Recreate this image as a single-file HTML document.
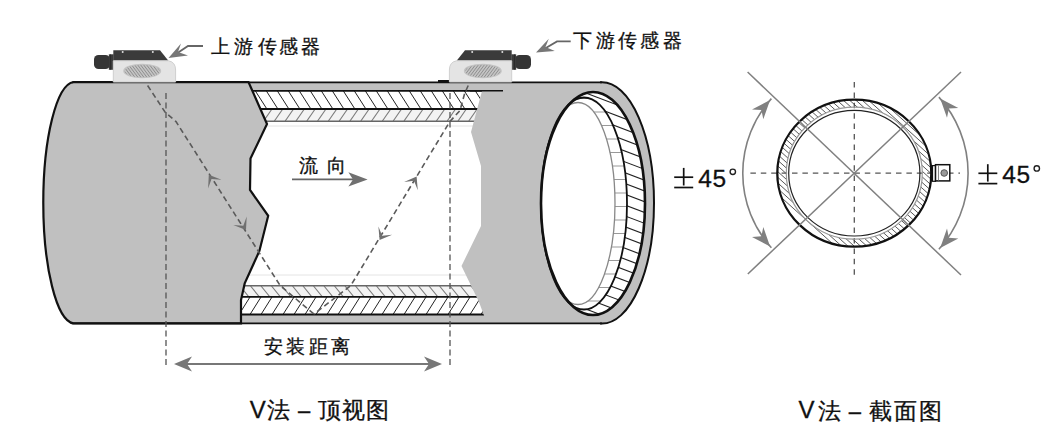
<!DOCTYPE html>
<html><head><meta charset="utf-8"><style>html,body{margin:0;padding:0;background:#fff}svg{display:block}</style></head>
<body><svg width="1062" height="433" viewBox="0 0 1062 433" style="font-family:'Liberation Sans',sans-serif"><defs><clipPath id="mid"><rect x="200" y="82" width="320" height="243"/></clipPath></defs><rect width="1062" height="433" fill="#fff"/><rect x="240" y="82" width="265" height="9" fill="#c0c0c0"/><g clip-path="url(#c91_109)" stroke="#222" stroke-width="1"><line x1="222.40" y1="91.00" x2="233.90" y2="109.00"/><line x1="233.40" y1="91.00" x2="244.90" y2="109.00"/><line x1="244.40" y1="91.00" x2="255.90" y2="109.00"/><line x1="255.40" y1="91.00" x2="266.90" y2="109.00"/><line x1="266.40" y1="91.00" x2="277.90" y2="109.00"/><line x1="277.40" y1="91.00" x2="288.90" y2="109.00"/><line x1="288.40" y1="91.00" x2="299.90" y2="109.00"/><line x1="299.40" y1="91.00" x2="310.90" y2="109.00"/><line x1="310.40" y1="91.00" x2="321.90" y2="109.00"/><line x1="321.40" y1="91.00" x2="332.90" y2="109.00"/><line x1="332.40" y1="91.00" x2="343.90" y2="109.00"/><line x1="343.40" y1="91.00" x2="354.90" y2="109.00"/><line x1="354.40" y1="91.00" x2="365.90" y2="109.00"/><line x1="365.40" y1="91.00" x2="376.90" y2="109.00"/><line x1="376.40" y1="91.00" x2="387.90" y2="109.00"/><line x1="387.40" y1="91.00" x2="398.90" y2="109.00"/><line x1="398.40" y1="91.00" x2="409.90" y2="109.00"/><line x1="409.40" y1="91.00" x2="420.90" y2="109.00"/><line x1="420.40" y1="91.00" x2="431.90" y2="109.00"/><line x1="431.40" y1="91.00" x2="442.90" y2="109.00"/><line x1="442.40" y1="91.00" x2="453.90" y2="109.00"/><line x1="453.40" y1="91.00" x2="464.90" y2="109.00"/><line x1="464.40" y1="91.00" x2="475.90" y2="109.00"/><line x1="475.40" y1="91.00" x2="486.90" y2="109.00"/><line x1="486.40" y1="91.00" x2="497.90" y2="109.00"/><line x1="497.40" y1="91.00" x2="508.90" y2="109.00"/><line x1="508.40" y1="91.00" x2="519.90" y2="109.00"/><line x1="519.40" y1="91.00" x2="530.90" y2="109.00"/></g><rect x="240" y="109.5" width="265" height="11.5" fill="#f3f3f3"/><g clip-path="url(#c109_121)" stroke="#7a7a7a" stroke-width="1.1"><line x1="250.00" y1="109.50" x2="242.00" y2="121.00"/><line x1="260.80" y1="109.50" x2="252.80" y2="121.00"/><line x1="271.60" y1="109.50" x2="263.60" y2="121.00"/><line x1="282.40" y1="109.50" x2="274.40" y2="121.00"/><line x1="293.20" y1="109.50" x2="285.20" y2="121.00"/><line x1="304.00" y1="109.50" x2="296.00" y2="121.00"/><line x1="314.80" y1="109.50" x2="306.80" y2="121.00"/><line x1="325.60" y1="109.50" x2="317.60" y2="121.00"/><line x1="336.40" y1="109.50" x2="328.40" y2="121.00"/><line x1="347.20" y1="109.50" x2="339.20" y2="121.00"/><line x1="358.00" y1="109.50" x2="350.00" y2="121.00"/><line x1="368.80" y1="109.50" x2="360.80" y2="121.00"/><line x1="379.60" y1="109.50" x2="371.60" y2="121.00"/><line x1="390.40" y1="109.50" x2="382.40" y2="121.00"/><line x1="401.20" y1="109.50" x2="393.20" y2="121.00"/><line x1="412.00" y1="109.50" x2="404.00" y2="121.00"/><line x1="422.80" y1="109.50" x2="414.80" y2="121.00"/><line x1="433.60" y1="109.50" x2="425.60" y2="121.00"/><line x1="444.40" y1="109.50" x2="436.40" y2="121.00"/><line x1="455.20" y1="109.50" x2="447.20" y2="121.00"/><line x1="466.00" y1="109.50" x2="458.00" y2="121.00"/><line x1="476.80" y1="109.50" x2="468.80" y2="121.00"/><line x1="487.60" y1="109.50" x2="479.60" y2="121.00"/><line x1="498.40" y1="109.50" x2="490.40" y2="121.00"/><line x1="509.20" y1="109.50" x2="501.20" y2="121.00"/><line x1="520.00" y1="109.50" x2="512.00" y2="121.00"/></g><line x1="240" y1="90.8" x2="503" y2="90.8" stroke="#111" stroke-width="1.8"/><line x1="240" y1="109" x2="505" y2="109" stroke="#111" stroke-width="1.8"/><line x1="240" y1="121.3" x2="505" y2="121.3" stroke="#666" stroke-width="1.4"/><line x1="240" y1="126" x2="505" y2="126" stroke="#e4e4e4" stroke-width="1"/><line x1="240" y1="275" x2="505" y2="275" stroke="#e4e4e4" stroke-width="1"/><rect x="240" y="286" width="265" height="11" fill="#f3f3f3"/><g clip-path="url(#c286_297)" stroke="#7a7a7a" stroke-width="1.1"><line x1="240.00" y1="286.00" x2="249.00" y2="297.00"/><line x1="250.50" y1="286.00" x2="259.50" y2="297.00"/><line x1="261.00" y1="286.00" x2="270.00" y2="297.00"/><line x1="271.50" y1="286.00" x2="280.50" y2="297.00"/><line x1="282.00" y1="286.00" x2="291.00" y2="297.00"/><line x1="292.50" y1="286.00" x2="301.50" y2="297.00"/><line x1="303.00" y1="286.00" x2="312.00" y2="297.00"/><line x1="313.50" y1="286.00" x2="322.50" y2="297.00"/><line x1="324.00" y1="286.00" x2="333.00" y2="297.00"/><line x1="334.50" y1="286.00" x2="343.50" y2="297.00"/><line x1="345.00" y1="286.00" x2="354.00" y2="297.00"/><line x1="355.50" y1="286.00" x2="364.50" y2="297.00"/><line x1="366.00" y1="286.00" x2="375.00" y2="297.00"/><line x1="376.50" y1="286.00" x2="385.50" y2="297.00"/><line x1="387.00" y1="286.00" x2="396.00" y2="297.00"/><line x1="397.50" y1="286.00" x2="406.50" y2="297.00"/><line x1="408.00" y1="286.00" x2="417.00" y2="297.00"/><line x1="418.50" y1="286.00" x2="427.50" y2="297.00"/><line x1="429.00" y1="286.00" x2="438.00" y2="297.00"/><line x1="439.50" y1="286.00" x2="448.50" y2="297.00"/><line x1="450.00" y1="286.00" x2="459.00" y2="297.00"/><line x1="460.50" y1="286.00" x2="469.50" y2="297.00"/><line x1="471.00" y1="286.00" x2="480.00" y2="297.00"/><line x1="481.50" y1="286.00" x2="490.50" y2="297.00"/><line x1="492.00" y1="286.00" x2="501.00" y2="297.00"/><line x1="502.50" y1="286.00" x2="511.50" y2="297.00"/><line x1="513.00" y1="286.00" x2="522.00" y2="297.00"/><line x1="523.50" y1="286.00" x2="532.50" y2="297.00"/></g><g clip-path="url(#c297_314)" stroke="#222" stroke-width="1"><line x1="250.00" y1="297.00" x2="239.00" y2="314.50"/><line x1="261.00" y1="297.00" x2="250.00" y2="314.50"/><line x1="272.00" y1="297.00" x2="261.00" y2="314.50"/><line x1="283.00" y1="297.00" x2="272.00" y2="314.50"/><line x1="294.00" y1="297.00" x2="283.00" y2="314.50"/><line x1="305.00" y1="297.00" x2="294.00" y2="314.50"/><line x1="316.00" y1="297.00" x2="305.00" y2="314.50"/><line x1="327.00" y1="297.00" x2="316.00" y2="314.50"/><line x1="338.00" y1="297.00" x2="327.00" y2="314.50"/><line x1="349.00" y1="297.00" x2="338.00" y2="314.50"/><line x1="360.00" y1="297.00" x2="349.00" y2="314.50"/><line x1="371.00" y1="297.00" x2="360.00" y2="314.50"/><line x1="382.00" y1="297.00" x2="371.00" y2="314.50"/><line x1="393.00" y1="297.00" x2="382.00" y2="314.50"/><line x1="404.00" y1="297.00" x2="393.00" y2="314.50"/><line x1="415.00" y1="297.00" x2="404.00" y2="314.50"/><line x1="426.00" y1="297.00" x2="415.00" y2="314.50"/><line x1="437.00" y1="297.00" x2="426.00" y2="314.50"/><line x1="448.00" y1="297.00" x2="437.00" y2="314.50"/><line x1="459.00" y1="297.00" x2="448.00" y2="314.50"/><line x1="470.00" y1="297.00" x2="459.00" y2="314.50"/><line x1="481.00" y1="297.00" x2="470.00" y2="314.50"/><line x1="492.00" y1="297.00" x2="481.00" y2="314.50"/><line x1="503.00" y1="297.00" x2="492.00" y2="314.50"/><line x1="514.00" y1="297.00" x2="503.00" y2="314.50"/><line x1="525.00" y1="297.00" x2="514.00" y2="314.50"/></g><rect x="240" y="314.5" width="265" height="9" fill="#c0c0c0"/><line x1="240" y1="285.7" x2="505" y2="285.7" stroke="#666" stroke-width="1.4"/><line x1="240" y1="296.8" x2="505" y2="296.8" stroke="#111" stroke-width="1.8"/><line x1="240" y1="314.5" x2="505" y2="314.5" stroke="#111" stroke-width="1.8"/><defs><clipPath id="c91_109"><rect x="240.0" y="91.0" width="265.0" height="18.0"/></clipPath><clipPath id="c109_121"><rect x="240.0" y="109.5" width="265.0" height="11.5"/></clipPath><clipPath id="c286_297"><rect x="240.0" y="286.0" width="265.0" height="11.0"/></clipPath><clipPath id="c297_314"><rect x="240.0" y="297.0" width="265.0" height="17.5"/></clipPath></defs><path d="M248.5,82 L73.5,82 A31.5,120.8 0 0 0 73.5,323.4 L241,323.4 L241.0,300.0 L244.7,283.4 L259.4,251.0 L268.2,215.8 L250.0,190.0 L250.5,158.5 L267.0,124.0 L248.5,82.0 Z" fill="#c0c0c0" stroke="#111" stroke-width="2.2" stroke-linejoin="miter"/><path d="M482,91 L482,82 L602,82 A52,121 0 0 1 602,324 L486,324 L486.0,321.0 L479.0,302.0 L461.5,266.0 L481.0,226.0 L481.0,166.0 L471.0,132.0 L482.0,91.0 Z" fill="#c0c0c0"/><path d="M600,82.3 L602,82.3 A52,120.65 0 0 1 602,323.6 L600,323.6" fill="none" stroke="#111" stroke-width="2"/><line x1="72" y1="82.4" x2="602" y2="82.4" stroke="#111" stroke-width="1.6"/><line x1="72" y1="323.3" x2="602" y2="323.3" stroke="#111" stroke-width="1.7"/><rect x="438" y="80" width="11" height="3" fill="#111"/><line x1="470" y1="90.8" x2="503" y2="90.8" stroke="#111" stroke-width="1.6"/><ellipse cx="593" cy="203.5" rx="52" ry="111.5" fill="#fff"/><defs><clipPath id="rimband"><path fill-rule="evenodd" clip-rule="evenodd" d="M593,203.5 m-52,0 a52,111.5 0 1 0 104,0 a52,111.5 0 1 0 -104,0 Z M584,203.5 m-43,0 a43,106 0 1 1 86,0 a43,106 0 1 1 -86,0 Z"/></clipPath><clipPath id="lineband"><path clip-rule="evenodd" d="M584,203.5 m-43,0 a43,106 0 1 0 86,0 a43,106 0 1 0 -86,0 Z M578,203.5 m-37,0 a37,101 0 1 1 74,0 a37,101 0 1 1 -74,0 Z"/></clipPath></defs><g clip-path="url(#rimband)" stroke="#222" stroke-width="1.1"><line x1="560" y1="40.0" x2="660" y2="78.0"/><line x1="560" y1="50.8" x2="660" y2="88.8"/><line x1="560" y1="61.6" x2="660" y2="99.6"/><line x1="560" y1="72.4" x2="660" y2="110.4"/><line x1="560" y1="83.2" x2="660" y2="121.2"/><line x1="560" y1="94.0" x2="660" y2="132.0"/><line x1="560" y1="104.8" x2="660" y2="142.8"/><line x1="560" y1="115.6" x2="660" y2="153.6"/><line x1="560" y1="126.4" x2="660" y2="164.4"/><line x1="560" y1="137.2" x2="660" y2="175.2"/><line x1="560" y1="148.0" x2="660" y2="186.0"/><line x1="560" y1="158.8" x2="660" y2="196.8"/><line x1="560" y1="169.6" x2="660" y2="207.6"/><line x1="560" y1="180.4" x2="660" y2="218.4"/><line x1="560" y1="191.2" x2="660" y2="229.2"/><line x1="560" y1="202.0" x2="660" y2="240.0"/><line x1="560" y1="212.8" x2="660" y2="250.8"/><line x1="560" y1="223.6" x2="660" y2="261.6"/><line x1="560" y1="234.4" x2="660" y2="272.4"/><line x1="560" y1="245.2" x2="660" y2="283.2"/><line x1="560" y1="256.0" x2="660" y2="294.0"/><line x1="560" y1="266.8" x2="660" y2="304.8"/><line x1="560" y1="277.6" x2="660" y2="315.6"/><line x1="560" y1="288.4" x2="660" y2="326.4"/><line x1="560" y1="299.2" x2="660" y2="337.2"/><line x1="560" y1="310.0" x2="660" y2="348.0"/><line x1="560" y1="320.8" x2="660" y2="358.8"/><line x1="560" y1="331.6" x2="660" y2="369.6"/><line x1="560" y1="342.4" x2="660" y2="380.4"/><line x1="560" y1="353.2" x2="660" y2="391.2"/></g><g clip-path="url(#lineband)" stroke="#999" stroke-width="1.1"><line x1="560" y1="98.5" x2="660" y2="98.5"/><line x1="560" y1="112.0" x2="660" y2="112.0"/><line x1="560" y1="125.5" x2="660" y2="125.5"/><line x1="560" y1="139.0" x2="660" y2="139.0"/><line x1="560" y1="152.5" x2="660" y2="152.5"/><line x1="560" y1="166.0" x2="660" y2="166.0"/><line x1="560" y1="179.5" x2="660" y2="179.5"/><line x1="560" y1="193.0" x2="660" y2="193.0"/><line x1="560" y1="206.5" x2="660" y2="206.5"/><line x1="560" y1="220.0" x2="660" y2="220.0"/><line x1="560" y1="233.5" x2="660" y2="233.5"/><line x1="560" y1="247.0" x2="660" y2="247.0"/><line x1="560" y1="260.5" x2="660" y2="260.5"/><line x1="560" y1="274.0" x2="660" y2="274.0"/><line x1="560" y1="287.5" x2="660" y2="287.5"/><line x1="560" y1="301.0" x2="660" y2="301.0"/><line x1="560" y1="314.5" x2="660" y2="314.5"/></g><ellipse cx="578" cy="203.5" rx="37" ry="101" fill="none" stroke="#888" stroke-width="1.3"/><ellipse cx="584" cy="203.5" rx="43" ry="106" fill="none" stroke="#111" stroke-width="1.8"/><ellipse cx="593" cy="203.5" rx="52" ry="111.5" fill="none" stroke="#111" stroke-width="2.6"/><g><rect x="94" y="55" width="16" height="14" rx="4.5" fill="#353535"/><rect x="108.8" y="54.3" width="4.8" height="15.5" fill="#3a3a3a"/><line x1="110.5" y1="54.5" x2="110.5" y2="69.5" stroke="#2a2a2a" stroke-width="1"/><polygon points="113.3,50.2 160,50.2 168.4,60.8 113.3,60.8" fill="#3b3b3b"/><circle cx="122.7" cy="52" r="1" fill="#ddd"/><circle cx="152.8" cy="52" r="1" fill="#ddd"/><path d="M113.3,60.8 L168.4,60.8 Q175.6,62 175.6,70 L175.6,82 L113.3,82 Z" fill="#e4e4e4" stroke="#cfcfcf" stroke-width="1"/><ellipse cx="142.2" cy="71" rx="19" ry="7.3" fill="#c4c4c4"/><g clip-path="url(#tdell0)" stroke="#8e8e8e" stroke-width="1"><line x1="100.2" y1="63" x2="112.2" y2="79"/><line x1="103.2" y1="63" x2="115.2" y2="79"/><line x1="106.2" y1="63" x2="118.2" y2="79"/><line x1="109.2" y1="63" x2="121.2" y2="79"/><line x1="112.2" y1="63" x2="124.2" y2="79"/><line x1="115.2" y1="63" x2="127.2" y2="79"/><line x1="118.2" y1="63" x2="130.2" y2="79"/><line x1="121.2" y1="63" x2="133.2" y2="79"/><line x1="124.2" y1="63" x2="136.2" y2="79"/><line x1="127.2" y1="63" x2="139.2" y2="79"/><line x1="130.2" y1="63" x2="142.2" y2="79"/><line x1="133.2" y1="63" x2="145.2" y2="79"/><line x1="136.2" y1="63" x2="148.2" y2="79"/><line x1="139.2" y1="63" x2="151.2" y2="79"/><line x1="142.2" y1="63" x2="154.2" y2="79"/><line x1="145.2" y1="63" x2="157.2" y2="79"/><line x1="148.2" y1="63" x2="160.2" y2="79"/><line x1="151.2" y1="63" x2="163.2" y2="79"/><line x1="154.2" y1="63" x2="166.2" y2="79"/><line x1="157.2" y1="63" x2="169.2" y2="79"/><line x1="160.2" y1="63" x2="172.2" y2="79"/><line x1="163.2" y1="63" x2="175.2" y2="79"/><line x1="166.2" y1="63" x2="178.2" y2="79"/><line x1="169.2" y1="63" x2="181.2" y2="79"/></g><defs><clipPath id="tdell0"><ellipse cx="142.2" cy="71" rx="17.5" ry="6.3"/></clipPath></defs></g><g transform="translate(625,0) scale(-1,1)"><rect x="94" y="55" width="16" height="14" rx="4.5" fill="#353535"/><rect x="108.8" y="54.3" width="4.8" height="15.5" fill="#3a3a3a"/><line x1="110.5" y1="54.5" x2="110.5" y2="69.5" stroke="#2a2a2a" stroke-width="1"/><polygon points="113.3,50.2 160,50.2 168.4,60.8 113.3,60.8" fill="#3b3b3b"/><circle cx="122.7" cy="52" r="1" fill="#ddd"/><circle cx="152.8" cy="52" r="1" fill="#ddd"/><path d="M113.3,60.8 L168.4,60.8 Q175.6,62 175.6,70 L175.6,82 L113.3,82 Z" fill="#e4e4e4" stroke="#cfcfcf" stroke-width="1"/><ellipse cx="142.2" cy="71" rx="19" ry="7.3" fill="#c4c4c4"/><g clip-path="url(#tdell1)" stroke="#8e8e8e" stroke-width="1"><line x1="100.2" y1="63" x2="112.2" y2="79"/><line x1="103.2" y1="63" x2="115.2" y2="79"/><line x1="106.2" y1="63" x2="118.2" y2="79"/><line x1="109.2" y1="63" x2="121.2" y2="79"/><line x1="112.2" y1="63" x2="124.2" y2="79"/><line x1="115.2" y1="63" x2="127.2" y2="79"/><line x1="118.2" y1="63" x2="130.2" y2="79"/><line x1="121.2" y1="63" x2="133.2" y2="79"/><line x1="124.2" y1="63" x2="136.2" y2="79"/><line x1="127.2" y1="63" x2="139.2" y2="79"/><line x1="130.2" y1="63" x2="142.2" y2="79"/><line x1="133.2" y1="63" x2="145.2" y2="79"/><line x1="136.2" y1="63" x2="148.2" y2="79"/><line x1="139.2" y1="63" x2="151.2" y2="79"/><line x1="142.2" y1="63" x2="154.2" y2="79"/><line x1="145.2" y1="63" x2="157.2" y2="79"/><line x1="148.2" y1="63" x2="160.2" y2="79"/><line x1="151.2" y1="63" x2="163.2" y2="79"/><line x1="154.2" y1="63" x2="166.2" y2="79"/><line x1="157.2" y1="63" x2="169.2" y2="79"/><line x1="160.2" y1="63" x2="172.2" y2="79"/><line x1="163.2" y1="63" x2="175.2" y2="79"/><line x1="166.2" y1="63" x2="178.2" y2="79"/><line x1="169.2" y1="63" x2="181.2" y2="79"/></g><defs><clipPath id="tdell1"><ellipse cx="142.2" cy="71" rx="17.5" ry="6.3"/></clipPath></defs></g><line x1="166" y1="93" x2="166" y2="366" stroke="#555" stroke-width="1.3" stroke-dasharray="6 3.5"/><line x1="450" y1="93" x2="450" y2="366" stroke="#555" stroke-width="1.3" stroke-dasharray="6 3.5"/><polyline points="147.6,85.5 165.0,112.0 176.0,121.6 280.2,285.7 314.0,314.0" fill="none" stroke="#5a5a5a" stroke-width="1.6" stroke-dasharray="5.5 3.5"/><polyline points="468.2,85.5 464.5,94.0 460.0,110.5 449.8,121.6 350.7,285.7 314.0,314.0" fill="none" stroke="#5a5a5a" stroke-width="1.6" stroke-dasharray="5.5 3.5"/><polygon points="208.8,174.8 221.5,179.7 211.5,179.0 208.1,188.4" fill="#707070"/><polygon points="246.0,230.0 233.3,225.1 243.3,225.8 246.7,216.4" fill="#707070"/><polygon points="416.6,176.6 417.8,190.2 414.0,180.8 404.1,181.9" fill="#707070"/><polygon points="379.6,240.0 378.4,226.4 382.2,235.8 392.1,234.7" fill="#707070"/><line x1="292" y1="179.4" x2="355" y2="179.4" stroke="#666" stroke-width="1.8"/><polygon points="367.6,179.4 348.4,172.3 353,179.4 348.4,186.4" fill="#707070"/><line x1="180" y1="364" x2="436" y2="364" stroke="#777" stroke-width="1.8"/><polygon points="174,364 192,356.5 187,364 192,371.5" fill="#777"/><polygon points="442,364 424,356.5 429,364 424,371.5" fill="#777"/><polyline points="203,46 188,46 176,54" fill="none" stroke="#666" stroke-width="1.8"/><polygon points="168.5,58 181,43.6 178,52 188,55.5" fill="#777"/><polyline points="570.7,41.4 557,41.4 545,48.5" fill="none" stroke="#666" stroke-width="1.8"/><polygon points="536,52.4 548.8,38.8 545.5,47 554.8,50.9" fill="#777"/><line x1="854.3" y1="82" x2="854.3" y2="276" stroke="#555" stroke-width="1.3" stroke-dasharray="5.5 4.9"/><line x1="750.4" y1="173.2" x2="960" y2="173.2" stroke="#555" stroke-width="1.3" stroke-dasharray="5.5 4.9"/><defs><clipPath id="ring"><path clip-rule="evenodd" d="M854.3,173.2 m-77,0 a77,73.5 0 1 0 154,0 a77,73.5 0 1 0 -154,0 Z M854.3,173.2 m-68,0 a68,66 0 1 1 136,0 a68,66 0 1 1 -136,0 Z"/></clipPath></defs><g clip-path="url(#ring)" stroke="#3a3a3a" stroke-width="0.85"><line x1="654.3" y1="83.2" x2="854.3" y2="263.2"/><line x1="660.6" y1="83.2" x2="860.6" y2="263.2"/><line x1="666.9" y1="83.2" x2="866.9" y2="263.2"/><line x1="673.2" y1="83.2" x2="873.2" y2="263.2"/><line x1="679.5" y1="83.2" x2="879.5" y2="263.2"/><line x1="685.8" y1="83.2" x2="885.8" y2="263.2"/><line x1="692.1" y1="83.2" x2="892.1" y2="263.2"/><line x1="698.4" y1="83.2" x2="898.4" y2="263.2"/><line x1="704.7" y1="83.2" x2="904.7" y2="263.2"/><line x1="711.0" y1="83.2" x2="911.0" y2="263.2"/><line x1="717.3" y1="83.2" x2="917.3" y2="263.2"/><line x1="723.6" y1="83.2" x2="923.6" y2="263.2"/><line x1="729.9" y1="83.2" x2="929.9" y2="263.2"/><line x1="736.2" y1="83.2" x2="936.2" y2="263.2"/><line x1="742.5" y1="83.2" x2="942.5" y2="263.2"/><line x1="748.8" y1="83.2" x2="948.8" y2="263.2"/><line x1="755.1" y1="83.2" x2="955.1" y2="263.2"/><line x1="761.4" y1="83.2" x2="961.4" y2="263.2"/><line x1="767.7" y1="83.2" x2="967.7" y2="263.2"/><line x1="774.0" y1="83.2" x2="974.0" y2="263.2"/><line x1="780.3" y1="83.2" x2="980.3" y2="263.2"/><line x1="786.6" y1="83.2" x2="986.6" y2="263.2"/><line x1="792.9" y1="83.2" x2="992.9" y2="263.2"/><line x1="799.2" y1="83.2" x2="999.2" y2="263.2"/><line x1="805.5" y1="83.2" x2="1005.5" y2="263.2"/><line x1="811.8" y1="83.2" x2="1011.8" y2="263.2"/><line x1="818.1" y1="83.2" x2="1018.1" y2="263.2"/><line x1="824.4" y1="83.2" x2="1024.4" y2="263.2"/><line x1="830.7" y1="83.2" x2="1030.7" y2="263.2"/><line x1="837.0" y1="83.2" x2="1037.0" y2="263.2"/><line x1="843.3" y1="83.2" x2="1043.3" y2="263.2"/><line x1="849.6" y1="83.2" x2="1049.6" y2="263.2"/><line x1="855.9" y1="83.2" x2="1055.9" y2="263.2"/><line x1="862.2" y1="83.2" x2="1062.2" y2="263.2"/><line x1="868.5" y1="83.2" x2="1068.5" y2="263.2"/><line x1="874.8" y1="83.2" x2="1074.8" y2="263.2"/><line x1="881.1" y1="83.2" x2="1081.1" y2="263.2"/><line x1="887.4" y1="83.2" x2="1087.4" y2="263.2"/><line x1="893.7" y1="83.2" x2="1093.7" y2="263.2"/><line x1="900.0" y1="83.2" x2="1100.0" y2="263.2"/><line x1="906.3" y1="83.2" x2="1106.3" y2="263.2"/><line x1="912.6" y1="83.2" x2="1112.6" y2="263.2"/><line x1="918.9" y1="83.2" x2="1118.9" y2="263.2"/><line x1="925.2" y1="83.2" x2="1125.2" y2="263.2"/><line x1="931.5" y1="83.2" x2="1131.5" y2="263.2"/><line x1="937.8" y1="83.2" x2="1137.8" y2="263.2"/><line x1="944.1" y1="83.2" x2="1144.1" y2="263.2"/><line x1="950.4" y1="83.2" x2="1150.4" y2="263.2"/><line x1="956.7" y1="83.2" x2="1156.7" y2="263.2"/><line x1="963.0" y1="83.2" x2="1163.0" y2="263.2"/><line x1="969.3" y1="83.2" x2="1169.3" y2="263.2"/><line x1="975.6" y1="83.2" x2="1175.6" y2="263.2"/><line x1="981.9" y1="83.2" x2="1181.9" y2="263.2"/><line x1="988.2" y1="83.2" x2="1188.2" y2="263.2"/><line x1="994.5" y1="83.2" x2="1194.5" y2="263.2"/><line x1="1000.8" y1="83.2" x2="1200.8" y2="263.2"/><line x1="1007.1" y1="83.2" x2="1207.1" y2="263.2"/><line x1="1013.4" y1="83.2" x2="1213.4" y2="263.2"/><line x1="1019.7" y1="83.2" x2="1219.7" y2="263.2"/><line x1="1026.0" y1="83.2" x2="1226.0" y2="263.2"/><line x1="1032.3" y1="83.2" x2="1232.3" y2="263.2"/><line x1="1038.6" y1="83.2" x2="1238.6" y2="263.2"/><line x1="1044.9" y1="83.2" x2="1244.9" y2="263.2"/><line x1="1051.2" y1="83.2" x2="1251.2" y2="263.2"/></g><ellipse cx="854.3" cy="173.2" rx="68" ry="66" fill="none" stroke="#999" stroke-width="1.2"/><ellipse cx="854.3" cy="173.2" rx="65.6" ry="62.8" fill="none" stroke="#222" stroke-width="1.2"/><ellipse cx="854.3" cy="173.2" rx="77" ry="73.5" fill="none" stroke="#111" stroke-width="2.3"/><line x1="747.6" y1="72" x2="961" y2="275" stroke="#808080" stroke-width="1.5"/><line x1="747.8" y1="274" x2="961" y2="72" stroke="#808080" stroke-width="1.5"/><rect x="932.5" y="165.6" width="3" height="15.7" fill="#fff" stroke="#111" stroke-width="1.2"/><rect x="935.5" y="164.7" width="14.3" height="16.2" fill="#fff" stroke="#111" stroke-width="1.5"/><line x1="938.5" y1="165" x2="938.5" y2="180.5" stroke="#888" stroke-width="1"/><circle cx="944.2" cy="173" r="3.3" fill="#999" stroke="#555" stroke-width="1"/><path d="M771.4,247.8 A111.5,111.5 0 0 1 771.4,98.6" fill="none" stroke="#808080" stroke-width="1.6"/><path d="M938.9,97.1 A113.8,113.8 0 0 1 938.9,249.3" fill="none" stroke="#808080" stroke-width="1.6"/><polygon points="770.1,100.0 763.3,119.3 761.4,110.1 752.0,109.5" fill="#808080"/><polygon points="770.1,246.4 752.0,236.9 761.4,236.3 763.3,227.1" fill="#808080"/><polygon points="940.2,98.5 958.3,108.0 948.9,108.6 947.0,117.8" fill="#808080"/><polygon points="940.2,247.9 947.0,228.6 948.9,237.8 958.3,238.4" fill="#808080"/><text x="210.8" y="52.7" font-size="19" fill="#111" stroke="#111" stroke-width="0.3">上</text><text x="233.7" y="52.7" font-size="19" fill="#111" stroke="#111" stroke-width="0.3">游</text><text x="257.5" y="52.7" font-size="19" fill="#111" stroke="#111" stroke-width="0.3">传</text><text x="278.6" y="52.7" font-size="19" fill="#111" stroke="#111" stroke-width="0.3">感</text><text x="300.7" y="52.7" font-size="19" fill="#111" stroke="#111" stroke-width="0.3">器</text><text x="573.2" y="46.6" font-size="19" fill="#111" stroke="#111" stroke-width="0.3">下</text><text x="595.6" y="46.6" font-size="19" fill="#111" stroke="#111" stroke-width="0.3">游</text><text x="618.0" y="46.6" font-size="19" fill="#111" stroke="#111" stroke-width="0.3">传</text><text x="640.4" y="46.6" font-size="19" fill="#111" stroke="#111" stroke-width="0.3">感</text><text x="662.8" y="46.6" font-size="19" fill="#111" stroke="#111" stroke-width="0.3">器</text><text x="298.5" y="172.4" font-size="19" fill="#111" stroke="#111" stroke-width="0.3">流</text><text x="327.0" y="172.4" font-size="19" fill="#111" stroke="#111" stroke-width="0.3">向</text><text x="263.5" y="353.0" font-size="19" fill="#111" stroke="#111" stroke-width="0.3">安</text><text x="286.0" y="353.0" font-size="19" fill="#111" stroke="#111" stroke-width="0.3">装</text><text x="308.5" y="353.0" font-size="19" fill="#111" stroke="#111" stroke-width="0.3">距</text><text x="331.0" y="353.0" font-size="19" fill="#111" stroke="#111" stroke-width="0.3">离</text><text x="249.8" y="417.5" font-size="24" fill="#111" stroke="#111" stroke-width="0.3">V</text><text x="266.9" y="417.6" font-size="22.5" fill="#111" stroke="#111" stroke-width="0.3">法</text><text x="317.6" y="417.6" font-size="22.5" fill="#111" stroke="#111" stroke-width="0.3">顶</text><text x="342.2" y="417.6" font-size="22.5" fill="#111" stroke="#111" stroke-width="0.3">视</text><text x="366.0" y="417.6" font-size="22.5" fill="#111" stroke="#111" stroke-width="0.3">图</text><text x="298.0" y="418.0" font-size="22" fill="#111" stroke="#111" stroke-width="0.3">–</text><text x="798.4" y="418.0" font-size="24" fill="#111" stroke="#111" stroke-width="0.3">V</text><text x="818.2" y="419.0" font-size="22.5" fill="#111" stroke="#111" stroke-width="0.3">法</text><text x="868.6" y="419.0" font-size="22.5" fill="#111" stroke="#111" stroke-width="0.3">截</text><text x="894.3" y="419.0" font-size="22.5" fill="#111" stroke="#111" stroke-width="0.3">面</text><text x="918.9" y="419.0" font-size="22.5" fill="#111" stroke="#111" stroke-width="0.3">图</text><text x="848.8" y="418.5" font-size="22" fill="#111" stroke="#111" stroke-width="0.3">–</text><text x="698.2" y="187.3" font-size="24.5" fill="#111" stroke="#111" stroke-width="0.3">4</text><text x="712.5" y="187.3" font-size="24.5" fill="#111" stroke="#111" stroke-width="0.3">5</text><text x="1002.3" y="183.2" font-size="24.5" fill="#111" stroke="#111" stroke-width="0.3">4</text><text x="1016.5" y="183.2" font-size="24.5" fill="#111" stroke="#111" stroke-width="0.3">5</text><g stroke="#111" stroke-width="1.7"><line x1="674.2" y1="177.2" x2="693.2" y2="177.2"/><line x1="683.7" y1="167.9" x2="683.7" y2="185.5"/><line x1="674.2" y1="187.5" x2="693.2" y2="187.5"/></g><g stroke="#111" stroke-width="1.7"><line x1="978.4" y1="173.3" x2="997.3" y2="173.3"/><line x1="987.8" y1="164.2" x2="987.8" y2="181.6"/><line x1="978.4" y1="183.6" x2="997.3" y2="183.6"/></g><circle cx="732.8" cy="171.8" r="2.7" fill="none" stroke="#222" stroke-width="1.4"/><circle cx="1036.8" cy="168.4" r="2.7" fill="none" stroke="#222" stroke-width="1.4"/></svg></body></html>
